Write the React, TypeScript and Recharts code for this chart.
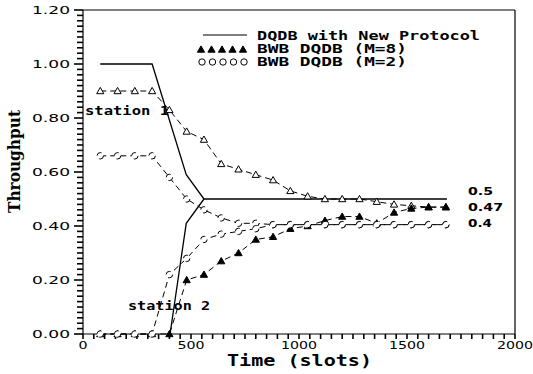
import React from "react";
import { LineChart, Line, XAxis, YAxis, ReferenceLine, Customized } from "recharts";

if (typeof document !== "undefined") document.body.style.margin = "0";

// ---- data ----
const slots = [80, 160, 240, 320, 400, 480, 560, 640, 720, 800, 880, 960, 1040, 1120, 1200, 1280, 1360, 1440, 1520, 1600, 1680];
const m8Station1 = [0.9, 0.9, 0.9, 0.9, 0.83, 0.75, 0.72, 0.63, 0.61, 0.59, 0.57, 0.53, 0.51, 0.5, 0.5, 0.5, 0.49, 0.48, 0.475, 0.47, 0.47];
const m8Station2 = [0, 0, 0, 0, 0, 0.2, 0.22, 0.27, 0.3, 0.35, 0.36, 0.39, 0.4, 0.42, 0.435, 0.435, 0.41, 0.45, 0.465, 0.47, 0.47];
const m2Station1 = [0.66, 0.66, 0.66, 0.66, 0.58, 0.5, 0.46, 0.43, 0.41, 0.41, 0.405, 0.405, 0.405, 0.405, 0.405, 0.405, 0.405, 0.405, 0.405, 0.405, 0.405];
const m2Station2 = [0, 0, 0, 0, 0.22, 0.28, 0.35, 0.37, 0.38, 0.39, 0.405, 0.405, 0.405, 0.405, 0.405, 0.405, 0.405, 0.405, 0.405, 0.405, 0.405];
const newStation1X = [80, 320, 478, 560, 1685];
const newStation1Y = [1, 1, 0.59, 0.5, 0.5];
const newStation2X = [403, 478, 560];
const newStation2Y = [0, 0.41, 0.5];

const yMajorTicks = [0, 0.2, 0.4, 0.6, 0.8, 1.0, 1.2];
const yTickLabels = ["0.00", "0.20", "0.40", "0.60", "0.80", "1.00", "1.20"];
const xMajorTicks = [0, 500, 1000, 1500, 2000];
const xTickLabels = ["0", "500", "1000", "1500", "2000"];
const yMinorTicks = Array.from({ length: 61 }, (_, i) => Math.round(i * 2) / 100);
const xMinorTicks = Array.from({ length: 41 }, (_, i) => i * 50);

const legendLabels = ["DQDB with New Protocol", "BWB DQDB (M=8)", "BWB DQDB (M=2)"];
const endLabels = ["0.5", "0.47", "0.4"];
const stationLabels = ["station  1", "station  2"];

// ---- layout ----
const W = 533;
const H = 374;
const MARGIN = { top: 10, right: 18, bottom: 0, left: 0 };
const Y_AXIS_W = 83;
const X_AXIS_H = 40;
const X_DOMAIN: [number, number] = [0, 2000];
const Y_DOMAIN: [number, number] = [0, 1.2];
const plotLeft = MARGIN.left + Y_AXIS_W;
const plotRight = W - MARGIN.right;
const plotTop = MARGIN.top;
const plotBottom = H - MARGIN.bottom - X_AXIS_H;
const sx = (v: number) => plotLeft + ((v - X_DOMAIN[0]) / (X_DOMAIN[1] - X_DOMAIN[0])) * (plotRight - plotLeft);
const sy = (v: number) => plotBottom - ((v - Y_DOMAIN[0]) / (Y_DOMAIN[1] - Y_DOMAIN[0])) * (plotBottom - plotTop);

const toPts = (xs: number[], ys: number[]) => xs.map((x, i) => ({ x, y: ys[i] }));

const MONO = "'DejaVu Sans Mono', monospace";
const SANS = "'DejaVu Sans', sans-serif";

const isMajorY = (v: number) => yMajorTicks.some((t) => Math.abs(t - v) < 1e-6);

const YTick = (props: any) => {
  const { x, y, payload } = props;
  const v = payload.value;
  const idx = yMajorTicks.findIndex((t) => Math.abs(t - v) < 1e-6);
  if (idx < 0) return <g />;
  return (
    <text x={x - 13} y={y + 4} textAnchor="end" fontFamily={SANS} fontSize={11} textLength={38} lengthAdjust="spacingAndGlyphs" fill="#000">
      {yTickLabels[idx]}
    </text>
  );
};

const XTick = (props: any) => {
  const { x, y, payload } = props;
  const v = payload.value;
  const idx = xMajorTicks.findIndex((t) => Math.abs(t - v) < 1e-6);
  if (idx < 0) return <g />;
  const label = xTickLabels[idx];
  return (
    <text x={x} y={y + 15} textAnchor="middle" fontFamily={SANS} fontSize={11} textLength={label.length * 9} lengthAdjust="spacingAndGlyphs" fill="#000">
      {label}
    </text>
  );
};

const triPath = (cx: number, cy: number, s = 3.6) => `M${cx},${cy - s} L${cx + s},${cy + s * 0.75} L${cx - s},${cy + s * 0.75} Z`;

const triDot = (filled: boolean) => (props: any) => {
  const { cx, cy, index } = props;
  if (cx == null || cy == null) return <g key={`e${index}`} />;
  return <path key={`t${index}`} d={triPath(cx, cy)} fill={filled ? "#000" : "#fff"} stroke="#000" strokeWidth={1} />;
};

const circleDot = { r: 3.2, fill: "#fff", stroke: "#000", strokeWidth: 1 };

const Annotations = () => (
  <g>
    {/* axis ticks */}
    {yMinorTicks.map((v) => (
      <line key={`yt${v}`} x1={plotLeft - (isMajorY(v) ? 9 : 6)} x2={plotLeft} y1={sy(v)} y2={sy(v)} stroke="#000" strokeWidth={1.6} />
    ))}
    {xMinorTicks.map((v) => (
      <line key={`xt${v}`} x1={sx(v)} x2={sx(v)} y1={plotBottom} y2={plotBottom + 5} stroke="#000" strokeWidth={1.6} />
    ))}

    {/* legend */}
    <line x1={203} x2={247} y1={35} y2={35} stroke="#000" strokeWidth={1.2} />
    {[0, 1, 2, 3, 4].map((i) => (
      <path key={`lt${i}`} d={triPath(201 + i * 10.5, 49.5, 3.6)} fill="#000" stroke="#000" />
    ))}
    {[0, 1, 2, 3, 4].map((i) => (
      <circle key={`lc${i}`} cx={202 + i * 10.5} cy={62} r={3.2} fill="#fff" stroke="#000" />
    ))}
    <text x={257} y={40} fontFamily={MONO} fontWeight="bold" fontSize={12} textLength={223} lengthAdjust="spacingAndGlyphs">{legendLabels[0]}</text>
    <text x={257} y={53} fontFamily={MONO} fontWeight="bold" fontSize={12} textLength={150} lengthAdjust="spacingAndGlyphs">{legendLabels[1]}</text>
    <text x={257} y={66} fontFamily={MONO} fontWeight="bold" fontSize={12} textLength={150} lengthAdjust="spacingAndGlyphs">{legendLabels[2]}</text>

    {/* station labels */}
    <text x={85} y={115} fontFamily={MONO} fontWeight="bold" fontSize={12} textLength={84} lengthAdjust="spacingAndGlyphs">{stationLabels[0]}</text>
    <text x={128} y={310} fontFamily={MONO} fontWeight="bold" fontSize={12} textLength={82} lengthAdjust="spacingAndGlyphs">{stationLabels[1]}</text>

    {/* end value labels */}
    <text x={468} y={195} fontFamily={SANS} fontWeight="bold" fontSize={11} textLength={25} lengthAdjust="spacingAndGlyphs">{endLabels[0]}</text>
    <text x={468} y={211} fontFamily={SANS} fontWeight="bold" fontSize={11} textLength={35} lengthAdjust="spacingAndGlyphs">{endLabels[1]}</text>
    <text x={468} y={227} fontFamily={SANS} fontWeight="bold" fontSize={11} textLength={24} lengthAdjust="spacingAndGlyphs">{endLabels[2]}</text>

    {/* axis titles */}
    <text x={227} y={366} fontFamily={MONO} fontWeight="bold" fontSize={15} textLength={145} lengthAdjust="spacingAndGlyphs">Time (slots)</text>
    <text transform="translate(20,213) rotate(-90)" x={0} y={0} fontFamily="'DejaVu Serif', serif" fontWeight="bold" fontSize={16} textLength={103} lengthAdjust="spacingAndGlyphs">Throughput</text>
  </g>
);

export default function App() {
  return (
    <LineChart width={W} height={H} margin={MARGIN}>
      <XAxis
        dataKey="x"
        type="number"
        domain={X_DOMAIN}
        ticks={xMajorTicks}
        interval={0}
        tick={<XTick />}
        tickLine={false}
        tickSize={0}
        tickMargin={0}
        height={X_AXIS_H}
        axisLine={{ stroke: "#000", strokeWidth: 1.2 }}
      />
      <YAxis
        type="number"
        domain={Y_DOMAIN}
        ticks={yMajorTicks}
        interval={0}
        tick={<YTick />}
        tickLine={false}
        tickSize={0}
        tickMargin={0}
        width={Y_AXIS_W}
        axisLine={{ stroke: "#000", strokeWidth: 1.2 }}
      />
      <ReferenceLine y={1.2} stroke="#000" strokeWidth={1} />
      <ReferenceLine x={2000} stroke="#000" strokeWidth={1.2} />

      <Line data={toPts(newStation1X, newStation1Y)} dataKey="y" type="linear" stroke="#000" strokeWidth={1.3} dot={false} isAnimationActive={false} />
      <Line data={toPts(newStation2X, newStation2Y)} dataKey="y" type="linear" stroke="#000" strokeWidth={1.3} dot={false} isAnimationActive={false} />
      <Line data={toPts(slots, m8Station1)} dataKey="y" type="linear" stroke="#000" strokeWidth={1} strokeDasharray="6 4" dot={triDot(false)} isAnimationActive={false} />
      <Line data={toPts(slots, m8Station2)} dataKey="y" type="linear" stroke="#000" strokeWidth={1} strokeDasharray="6 4" dot={triDot(true)} isAnimationActive={false} />
      <Line data={toPts(slots, m2Station1)} dataKey="y" type="linear" stroke="#000" strokeWidth={1} strokeDasharray="6 4" dot={circleDot} isAnimationActive={false} />
      <Line data={toPts(slots, m2Station2)} dataKey="y" type="linear" stroke="#000" strokeWidth={1} strokeDasharray="6 4" dot={circleDot} isAnimationActive={false} />

      <Customized component={<Annotations />} />
    </LineChart>
  );
}
